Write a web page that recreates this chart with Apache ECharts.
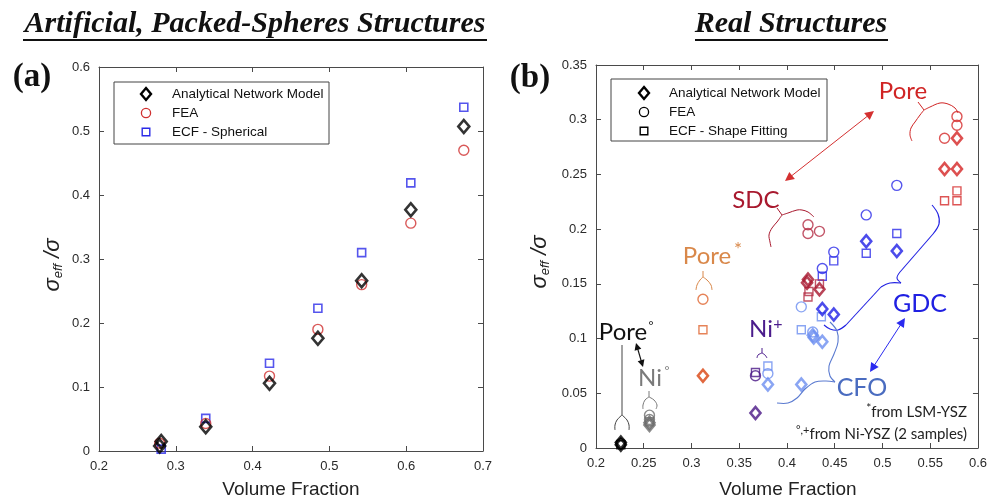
<!DOCTYPE html>
<html>
<head>
<meta charset="utf-8">
<script src="https://cdn.jsdelivr.net/npm/echarts@6/dist/echarts.min.js"></script>
<style>
  html, body { margin: 0; padding: 0; background: #fff; }
  #chart { width: 990px; height: 502px; }
</style>
</head>
<body>
<div id="chart"></div>
<script>
// ---------- tick values ----------
const ticksAX = [0.2, 0.3, 0.4, 0.5, 0.6, 0.7];
const ticksAY = [0, 0.1, 0.2, 0.3, 0.4, 0.5, 0.6];
const ticksBX = [0.2, 0.25, 0.3, 0.35, 0.4, 0.45, 0.5, 0.55, 0.6];
const ticksBY = [0, 0.05, 0.1, 0.15, 0.2, 0.25, 0.3, 0.35];

// ---------- (a) artificial, packed-spheres structures ----------
const anmA = [[0.281, 0.015], [0.279, 0.008], [0.339, 0.038], [0.422, 0.106], [0.485, 0.176], [0.542, 0.266], [0.606, 0.377], [0.675, 0.507]];
const feaA = [[0.279, 0.012], [0.339, 0.043], [0.422, 0.117], [0.485, 0.190], [0.542, 0.260], [0.606, 0.356], [0.675, 0.470]];
const ecfA = [[0.281, 0.003], [0.339, 0.051], [0.422, 0.137], [0.485, 0.223], [0.542, 0.310], [0.606, 0.419], [0.675, 0.537]];

// ---------- (b) real structures, one set per phase ----------
const poreNiANM = [[0.226, 0.005], [0.226, 0.003]];
const poreNiFEA = [[0.226, 0.004]];
const poreNiECF = [[0.226, 0.003]];

const niNiANM = [[0.256, 0.023], [0.256, 0.021]];
const niNiFEA = [[0.256, 0.030], [0.256, 0.026]];
const niNiECF = [[0.256, 0.024]];

const poreLsmANM = [[0.312, 0.066]];
const poreLsmFEA = [[0.312, 0.136]];
const poreLsmECF = [[0.312, 0.108]];

const niPlusANM = [[0.367, 0.032]];
const niPlusFEA = [[0.367, 0.066]];
const niPlusECF = [[0.367, 0.069]];

const cfoANM = [[0.380, 0.058], [0.415, 0.058], [0.427, 0.103], [0.428, 0.101], [0.437, 0.097]];
const cfoFEA = [[0.380, 0.068], [0.415, 0.129], [0.427, 0.106]];
const cfoECF = [[0.380, 0.075], [0.415, 0.108], [0.436, 0.120]];

const gdcANM = [[0.437, 0.127], [0.449, 0.122], [0.483, 0.189], [0.515, 0.180]];
const gdcFEA = [[0.437, 0.164], [0.449, 0.179], [0.483, 0.213], [0.515, 0.240]];
const gdcECF = [[0.437, 0.157], [0.449, 0.171], [0.483, 0.178], [0.515, 0.196]];

const sdcANM = [[0.422, 0.154], [0.421, 0.151], [0.434, 0.145]];
const sdcFEA = [[0.422, 0.204], [0.422, 0.196], [0.434, 0.198]];
const sdcECF = [[0.423, 0.143], [0.422, 0.138], [0.434, 0.150]];

const poreANM = [[0.578, 0.283], [0.565, 0.255], [0.578, 0.255]];
const poreFEA = [[0.578, 0.303], [0.578, 0.295], [0.565, 0.283]];
const poreECF = [[0.578, 0.235], [0.565, 0.226], [0.578, 0.226]];

const legendA = ['Analytical Network Model', 'FEA', 'ECF - Spherical'];
const legendB = ['Analytical Network Model', 'FEA', 'ECF - Shape Fitting'];

// ---------- styling ----------
const SANS = '"Liberation Sans", Arial, sans-serif';
const SERIF = '"Liberation Serif", "Times New Roman", serif';
const NOTE = 'Lato, "Noto Sans", sans-serif';
const AXIS_COLOR = '#4a4a4a';

const chart = echarts.init(document.getElementById('chart'), null, { renderer: 'canvas' });

function step(t) { return +(t[1] - t[0]).toFixed(4); }

function valueAxis(gridIndex, ticks, position, showLabels) {
  return {
    type: 'value', gridIndex, position,
    min: ticks[0], max: ticks[ticks.length - 1], interval: step(ticks),
    axisLine: { show: true, onZero: false, lineStyle: { color: AXIS_COLOR, width: 1 } },
    axisTick: { show: true, inside: true, length: 5, lineStyle: { color: AXIS_COLOR } },
    axisLabel: { show: showLabels, fontFamily: SANS, fontSize: 13, color: '#2a2a2a', margin: 9 },
    splitLine: { show: false }
  };
}

function markers(name, data, panel, symbol, color, size, bw, z) {
  return {
    type: 'scatter', name, data,
    xAxisIndex: panel * 2, yAxisIndex: panel * 2,
    symbol, symbolSize: size, z: z || 2,
    itemStyle: { color: 'rgba(255,255,255,0)', borderColor: color, borderWidth: bw },
    emphasis: { disabled: true }, silent: true
  };
}

const DIA_A = [11, 13], CIR_A = 10, SQ_A = 8;
const DIA_B = [10, 12], CIR_B = 10, SQ_B = 8;

function groupB(anm, fea, ecf, cAnm, cFea, cEcf) {
  return [
    markers('ECF', ecf, 1, 'rect', cEcf, SQ_B, 1.4, 2),
    markers('FEA', fea, 1, 'circle', cFea, CIR_B, 1.4, 3),
    markers('ANM', anm, 1, 'diamond', cAnm, DIA_B, 2.6, 4)
  ];
}

const series = [
  markers(legendA[2], ecfA, 0, 'rect', '#2a2ae8', SQ_A, 1.6, 2),
  markers(legendA[1], feaA, 0, 'circle', '#d03030', CIR_A, 1.4, 3),
  markers(legendA[0], anmA, 0, 'diamond', '#000000', DIA_A, 2.6, 4)
].concat(
  groupB(poreNiANM, poreNiFEA, poreNiECF, '#000', '#000', '#000'),
  groupB(niNiANM, niNiFEA, niNiECF, '#6e6e6e', '#6e6e6e', '#6e6e6e'),
  groupB(poreLsmANM, poreLsmFEA, poreLsmECF, '#d9420f', '#e0642e', '#e0642e'),
  groupB(niPlusANM, niPlusFEA, niPlusECF, '#4a1686', '#4a1686', '#4a1686'),
  groupB(cfoANM, cfoFEA, cfoECF, '#6d8ef0', '#6d8ef0', '#6d8ef0'),
  groupB(gdcANM, gdcFEA, gdcECF, '#1f1fe6', '#2a2ae8', '#2a2ae8'),
  groupB(sdcANM, sdcFEA, sdcECF, '#a8162e', '#b32a42', '#b32a42'),
  groupB(poreANM, poreFEA, poreECF, '#d42424', '#d42a2a', '#d42a2a')
);

// ---------- annotation helpers (pixel layout) ----------
function txt(x, y, text, size, color, extra) {
  return {
    type: 'text', x, y, silent: true, z: 10,
    style: Object.assign({ text, fontSize: size, fill: color, fontFamily: NOTE, align: 'center', verticalAlign: 'middle' }, extra || {})
  };
}
function curve(points, color, width) {
  return { type: 'polyline', silent: true, z: 9, shape: { points, smooth: 0.35 }, style: { stroke: color, lineWidth: width || 1, fill: null } };
}
function seg(x1, y1, x2, y2, color, width) {
  return { type: 'line', silent: true, z: 9, shape: { x1, y1, x2, y2 }, style: { stroke: color, lineWidth: width || 1 } };
}
function doubleArrow(x1, y1, x2, y2, color, width, len, hw) {
  const L = Math.hypot(x2 - x1, y2 - y1);
  const dx = (x2 - x1) / L, dy = (y2 - y1) / L, nx = -dy, ny = dx;
  const head = (tx, ty, sx) => ({
    type: 'polygon', silent: true, z: 9,
    shape: { points: [[tx, ty], [tx - sx * dx * len + nx * hw, ty - sx * dy * len + ny * hw], [tx - sx * dx * len - nx * hw, ty - sx * dy * len - ny * hw]] },
    style: { fill: color }
  });
  return [
    seg(x1 + dx * len * 0.8, y1 + dy * len * 0.8, x2 - dx * len * 0.8, y2 - dy * len * 0.8, color, width),
    head(x2, y2, 1), head(x1, y1, -1)
  ];
}
function diamondShape(cx, cy, w, h) {
  return [[cx, cy - h / 2], [cx + w / 2, cy], [cx, cy + h / 2], [cx - w / 2, cy]];
}
function legendBox(x, y, w, h, symX, textX, rowY, labels, colors) {
  return [
    { type: 'rect', silent: true, z: 8, shape: { x, y, width: w, height: h }, style: { fill: '#fff', stroke: '#444', lineWidth: 1 } },
    { type: 'polygon', silent: true, z: 9, shape: { points: diamondShape(symX, rowY[0], 10, 12) }, style: { fill: 'none', stroke: colors[0], lineWidth: 2.4 } },
    { type: 'circle', silent: true, z: 9, shape: { cx: symX, cy: rowY[1], r: 4.6 }, style: { fill: 'none', stroke: colors[1], lineWidth: 1.3 } },
    { type: 'rect', silent: true, z: 9, shape: { x: symX - 3.8, y: rowY[2] - 3.8, width: 7.6, height: 7.6 }, style: { fill: 'none', stroke: colors[2], lineWidth: 1.4 } },
    txt(textX, rowY[0], labels[0], 13.5, '#111', { align: 'left', fontFamily: SANS }),
    txt(textX, rowY[1], labels[1], 13.5, '#111', { align: 'left', fontFamily: SANS }),
    txt(textX, rowY[2], labels[2], 13.5, '#111', { align: 'left', fontFamily: SANS })
  ];
}
function yName(x, y) {
  return {
    type: 'text', x, y, rotation: Math.PI / 2, silent: true, z: 10,
    style: {
      text: '{s|σ}{e|eff}{s| /σ}', align: 'center', verticalAlign: 'middle',
      rich: {
        s: { fontSize: 22, fontStyle: 'italic', fontFamily: SANS, fill: '#222', lineHeight: 26 },
        e: { fontSize: 13, fontStyle: 'italic', fontFamily: SANS, fill: '#222', lineHeight: 26, padding: [10, 0, 0, 0] }
      }
    }
  };
}

const RED = '#d02424', SDC = '#a8192e', ORG = '#d9884a', PUR = '#4b1c8c', BLU = '#2020e2', CFO = '#4a6cc0', GRY = '#7a7a7a';

const graphics = [].concat(
  // titles
  txt(255, 24, 'Artificial, Packed-Spheres Structures', 30, '#111', { fontFamily: SERIF, fontWeight: 'bold', fontStyle: 'italic' }),
  seg(23, 40, 487, 40, '#111', 2),
  txt(791, 24, 'Real Structures', 30, '#111', { fontFamily: SERIF, fontWeight: 'bold', fontStyle: 'italic' }),
  seg(695, 40, 888, 40, '#111', 2),
  txt(32, 77, '(a)', 33, '#111', { fontFamily: SERIF, fontWeight: 'bold' }),
  txt(530, 78, '(b)', 33, '#111', { fontFamily: SERIF, fontWeight: 'bold' }),
  // axis names
  txt(291, 490, 'Volume Fraction', 19, '#222', { fontFamily: SANS }),
  txt(788, 490, 'Volume Fraction', 19, '#222', { fontFamily: SANS }),
  yName(53, 265),
  yName(540, 262),
  // legends
  legendBox(114, 82, 215, 62, 146, 172, [94, 113, 132], legendA, ['#000', '#d03030', '#2a2ae8']),
  legendBox(611, 79, 216, 62, 644, 669, [93, 112, 131], legendB, ['#000', '#000', '#000']),

  // Pore (red)
  txt(903, 91, 'Pore', 24, RED),
  seg(918, 102, 924, 110, RED, 1),
  curve([[924, 110], [930, 107], [940, 103], [948, 104], [955, 108], [958, 113]], RED, 1),
  curve([[924, 110], [920, 115], [915, 122], [911, 128], [910, 135], [912, 141]], RED, 1),
  doubleArrow(874, 111, 785, 181, '#d43030', 1, 9, 4.5),

  // SDC
  txt(756, 200, 'SDC', 24, SDC),
  seg(777, 208, 782, 215, SDC, 1),
  curve([[782, 215], [788, 213], [797, 210], [802, 210], [808, 212], [814, 217]], SDC, 1),
  curve([[782, 215], [777, 222], [772, 228], [769, 235], [770, 242], [771, 247]], SDC, 1),

  // Pore* (LSM-YSZ)
  txt(707, 256, 'Pore', 24, ORG),
  txt(738, 250, '*', 19, ORG),
  seg(703, 271, 703, 277, ORG, 1),
  curve([[703, 277], [700, 280], [697, 285], [696, 290]], ORG, 1),
  curve([[703, 277], [707, 280], [711, 285], [712, 290]], ORG, 1),

  // Ni+
  txt(761, 329, 'Ni', 24, PUR),
  txt(778, 324, '+', 16, PUR),
  seg(762, 348, 762, 353, PUR, 1),
  curve([[762, 353], [758, 355], [757, 358]], PUR, 1),
  curve([[762, 353], [765, 355], [767, 358]], PUR, 1),

  // Pore° (black)
  txt(623, 332, 'Pore', 24, '#111'),
  txt(651, 326, '°', 12, '#111'),
  seg(622, 345, 622, 415, '#444', 1),
  curve([[622, 415], [617, 420], [615, 425], [615, 430]], '#444', 1),
  curve([[622, 415], [627, 420], [629, 425], [629, 430]], '#444', 1),
  doubleArrow(636, 343, 643, 367, '#111', 1.2, 7, 3.5),

  // Ni° (grey)
  txt(650, 378, 'Ni', 24, GRY),
  txt(667, 371, '°', 12, GRY),
  seg(649, 391, 649, 397, GRY, 1),
  curve([[649, 397], [645, 400], [643, 405], [643, 409]], GRY, 1),
  curve([[649, 397], [654, 400], [657, 405], [656, 409]], GRY, 1),

  // GDC
  txt(920, 304, 'GDC', 25, BLU),
  curve([[932, 205], [938, 214], [939, 224], [933, 234]], BLU, 1.1),
  seg(933, 234, 900, 272, BLU, 1.1),
  curve([[900, 272], [897, 278], [901, 283]], BLU, 1.1),
  curve([[901, 283], [890, 283], [881, 287]], BLU, 1.1),
  seg(881, 287, 846, 325, BLU, 1.1),
  curve([[846, 325], [838, 330], [830, 329], [824, 325]], BLU, 1.1),
  doubleArrow(905, 318, 870, 372, '#2a2af0', 1, 9, 4.5),

  // CFO
  txt(862, 388, 'CFO', 25, CFO),
  curve([[830, 322], [837, 331], [838, 342], [834, 354], [829, 366], [830, 376], [835, 382]], '#5a7ad0', 1.1),
  curve([[835, 382], [826, 381], [815, 382], [805, 389], [797, 398], [788, 403], [777, 403]], '#5a7ad0', 1.1),

  // footnotes
  txt(967, 412, '{u|*}from LSM-YSZ', 15, '#222', {
    align: 'right', rich: { u: { fontSize: 12, fontFamily: NOTE, fill: '#222', padding: [0, 0, 7, 0] } }
  }),
  txt(967, 434, '{u|°,+}from Ni-YSZ (2 samples)', 15, '#222', {
    align: 'right', rich: { u: { fontSize: 11, fontFamily: NOTE, fill: '#222', padding: [0, 0, 7, 0] } }
  })
);

const option = {
  animation: false,
  backgroundColor: '#fff',
  grid: [
    { left: 99, top: 67, width: 384, height: 384, show: false },
    { left: 596, top: 65, width: 384, height: 383, show: false }
  ],
  xAxis: [
    valueAxis(0, ticksAX, 'bottom', true),
    valueAxis(0, ticksAX, 'top', false),
    valueAxis(1, ticksBX, 'bottom', true),
    valueAxis(1, ticksBX, 'top', false)
  ],
  yAxis: [
    valueAxis(0, ticksAY, 'left', true),
    valueAxis(0, ticksAY, 'right', false),
    valueAxis(1, ticksBY, 'left', true),
    valueAxis(1, ticksBY, 'right', false)
  ],
  series,
  graphic: { elements: graphics }
};
chart.setOption(option);
</script>
</body>
</html>
